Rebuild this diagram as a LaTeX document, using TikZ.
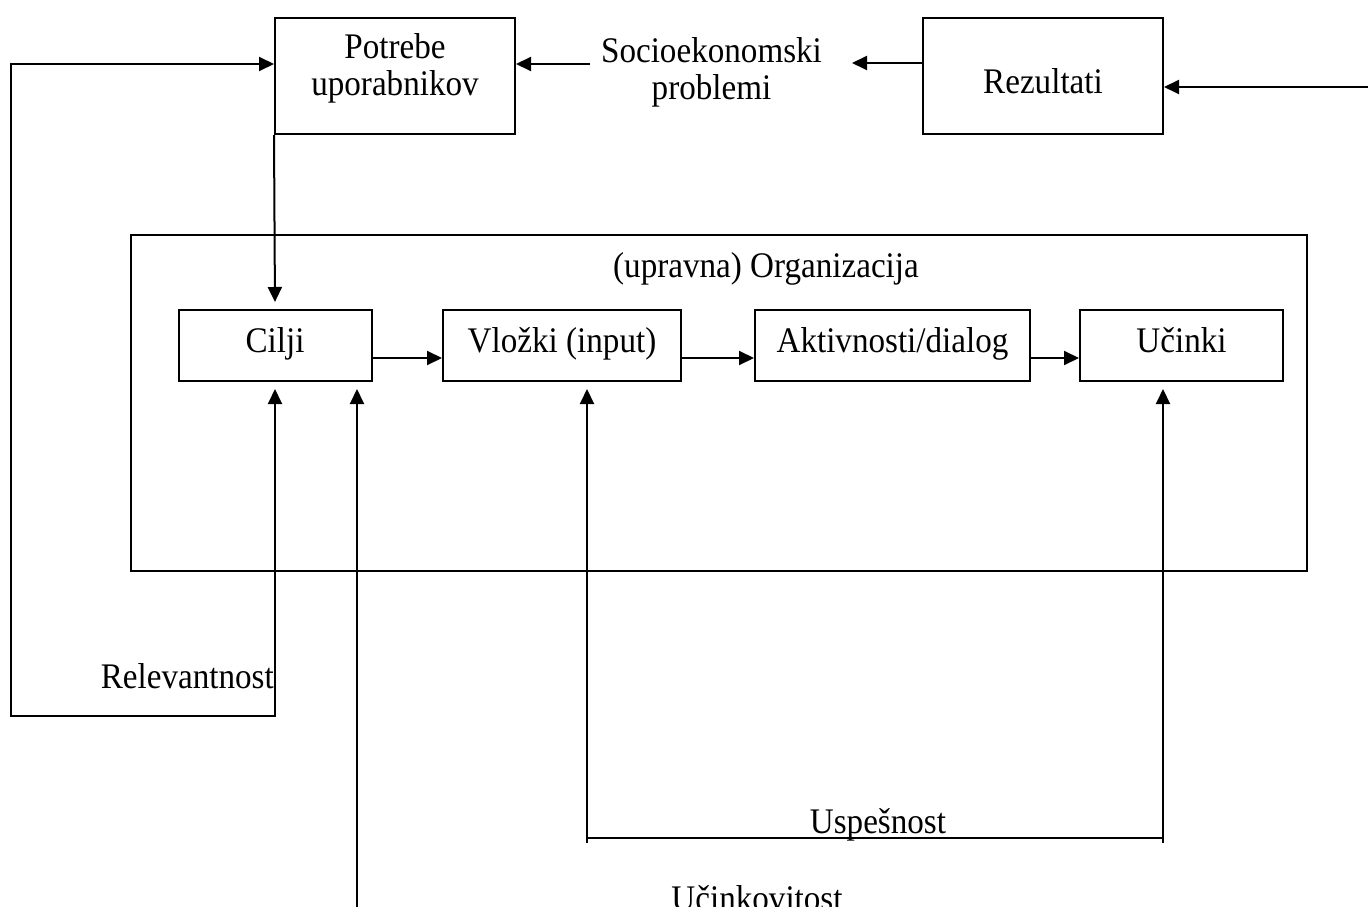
\documentclass[tikz,border=0pt]{standalone}
\usepackage{fontspec}
\setmainfont{Liberation Serif}[FakeStretch=0.92]
\usetikzlibrary{arrows.meta}
\begin{document}
\begin{tikzpicture}[x=1pt,y=-1pt,
  >={Triangle[length=15pt,width=14pt]},
  every node/.style={font=\fontsize{36}{37}\selectfont, inner sep=0pt},
  box/.style={draw, line width=2pt},
  stage/.style={box, minimum height=71pt, text height=22pt, text depth=9pt},
  frame/.style={draw, line width=1.7pt},
  link/.style={line width=2pt},
  arr/.style={link, ->},
  gap/.style={shorten >=7pt},
  lbl/.style={anchor=base}]
\useasboundingbox (0,0) rectangle (1368,907);
\clip (0,0) rectangle (1368,907);

% top row
\node[box, minimum width=240pt, minimum height=116pt, align=center, text depth=23.6pt] (pot) at (395,76) {Potrebe\\uporabnikov};
\node[box, minimum width=240pt, minimum height=116pt, text height=34pt, text depth=0pt] (rez) at (1043,76) {Rezultati};
\node[align=center] (soc) at (711.5,72) {Socioekonomski\\problemi};

% organisation frame and its stages
\node[frame, minimum width=1176pt, minimum height=336pt] (org) at (719,403) {};
\node[lbl] (orglbl) at (766,277) {(upravna) Organizacija};
\node[stage, minimum width=193pt] (cilji) at (275,345.5) {Cilji};
\node[stage, minimum width=238pt] (vlozki) at (562,345.5) {Vložki (input)};
\node[stage, minimum width=275pt] (aktiv) at (892.5,345.5) {Aktivnosti/dialog};
\node[stage, minimum width=203pt] (ucinki) at (1181.5,345.5) {Učinki};

% criteria labels
\node[anchor=base east] (rel) at (274,688) {Relevantnost};
\node[lbl] (usp) at (878,833) {Uspešnost};
\node[lbl] (uck) at (757,910) {Učinkovitost};

% free ends of connectors
\coordinate (loopT) at (11,64);
\coordinate (loopB) at (11,716);
\coordinate (socL) at (590,64);
\coordinate (socR) at (852,63);
\coordinate (feed) at (1368,87);
\coordinate (effB) at (357,907);
\coordinate (uspL) at (587,843);
\coordinate (uspR) at (1163,843);
\coordinate (uspY) at (0,838);

% relevance loop
\draw[link, <->, shorten <=7pt] (cilji.south) -- (cilji.south |- loopB) -- (loopB) -- (loopT) -- (loopT -| pot.west);
\draw[arr, gap] (pot.south west) -- (cilji.north);

% top flow
\draw[arr] (socL) -- (socL -| pot.east);
\draw[arr] (rez.west |- socR) -- (socR);
\draw[arr] (feed) -- (feed -| rez.east);

% stage chain
\draw[arr] ([yshift=-12.5pt]cilji.east) -- ([yshift=-12.5pt]vlozki.west);
\draw[arr] ([yshift=-12.5pt]vlozki.east) -- ([yshift=-12.5pt]aktiv.west);
\draw[arr] ([yshift=-12.5pt]aktiv.east) -- ([yshift=-12.5pt]ucinki.west);

% efficiency and effectiveness
\draw[arr, gap] (effB) -- (effB |- cilji.south);
\draw[arr, gap] (uspL) -- (uspL |- vlozki.south);
\draw[arr, gap] (uspR) -- (uspR |- ucinki.south);
\draw[link] (uspL |- uspY) -- (uspR |- uspY);
\end{tikzpicture}
\end{document}
